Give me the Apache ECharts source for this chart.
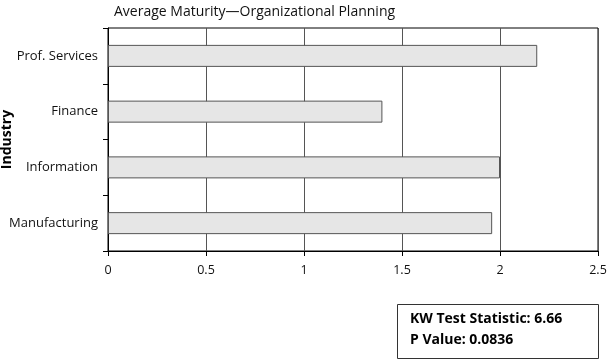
<!DOCTYPE html>
<html><head><meta charset="utf-8">
<script src="https://cdn.jsdelivr.net/npm/echarts@6/dist/echarts.min.js"></script>
<style>html,body{margin:0;padding:0;background:#fff}#c{width:607px;height:360px}</style>
</head><body><div id="c"></div>
<script>
const categories = ['Prof. Services', 'Finance', 'Information', 'Manufacturing'];
const values = [2.19, 1.40, 2.00, 1.96];
const titleText = 'Average Maturity\u2014Organizational Planning';
const statLines = ['KW Test Statistic: 6.66', 'P Value: 0.0836'];
const FONT = '"Open Sans", "Noto Sans", sans-serif';

const chart = echarts.init(document.getElementById('c'));
chart.setOption({
  animation: false,
  backgroundColor: '#fff',
  title: { text: titleText, left: 109, top: 0,
    textStyle: { fontFamily: FONT, fontSize: 14, fontWeight: 'normal', color: '#111' } },
  grid: { left: 108, right: 9, top: 28, bottom: 109, show: true, borderColor: '#000', borderWidth: 1,
    containLabel: false, outerBoundsMode: 'none' },
  xAxis: {
    type: 'value', min: 0, max: 2.5, interval: 0.5,
    axisLine: { show: true, lineStyle: { color: '#000', width: 1 } },
    axisTick: { show: true, length: 5, lineStyle: { color: '#000' } },
    axisLabel: { fontFamily: FONT, fontSize: 12.5, color: '#111', margin: 13,
      formatter: v => String(v) },
    splitLine: { show: true, lineStyle: { color: '#555', width: 1 } }
  },
  yAxis: {
    type: 'category', data: categories, inverse: true,
    name: 'Industry', nameLocation: 'middle', nameRotate: 90, nameGap: 94,
    nameMoveOverlap: false,
    nameTextStyle: { fontFamily: FONT, fontSize: 14, fontWeight: 'bold', color: '#000' },
    axisLine: { show: true, lineStyle: { color: '#000', width: 1 } },
    axisTick: { show: true, length: 5, alignWithLabel: false, lineStyle: { color: '#000' } },
    axisLabel: { fontFamily: FONT, fontSize: 13, color: '#111', margin: 10 },
    splitLine: { show: false }
  },
  series: [{
    type: 'bar', data: values, barWidth: 22,
    itemStyle: { color: '#e6e6e6', borderColor: '#555', borderWidth: 1 }
  }],
  graphic: [
    { type: 'rect', shape: { x: 397.5, y: 304.5, width: 201, height: 54 },
      style: { fill: '#fff', stroke: '#333', lineWidth: 1 } },
    { type: 'text', left: 410, top: 312,
      style: { text: statLines[0], font: 'bold 14px ' + FONT, fill: '#000' } },
    { type: 'text', left: 410, top: 333,
      style: { text: statLines[1], font: 'bold 14px ' + FONT, fill: '#000' } }
  ]
});
</script></body></html>
